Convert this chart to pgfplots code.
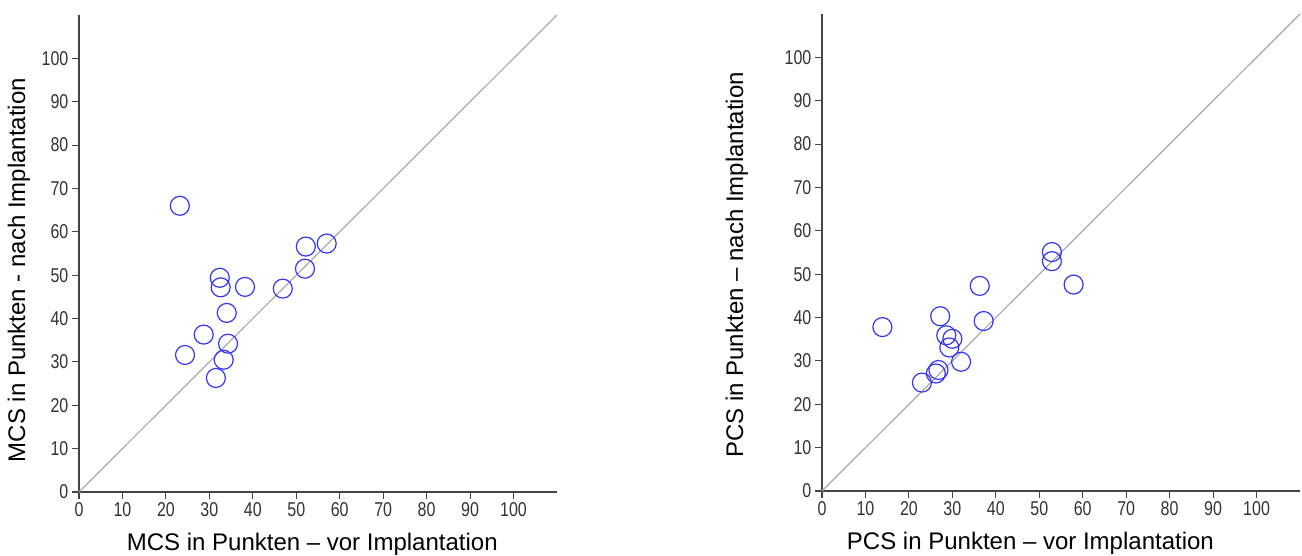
\documentclass[border=0pt]{standalone}
\usepackage{fontspec}
\setmainfont{Liberation Sans}
\newfontfamily\tickfont[FakeStretch=0.8]{Liberation Sans}
\usepackage{pgfplots}
\pgfplotsset{compat=1.18}
\definecolor{markblue}{HTML}{3535F5}
\definecolor{diaggray}{HTML}{AAAAAA}
\definecolor{axgray}{HTML}{444444}
\definecolor{tickgray}{HTML}{333333}
\pgfplotsset{
  scatterstyle/.style={
    scale only axis, width=478bp, height=477bp,
    xmin=0, xmax=110, ymin=0, ymax=110,
    axis x line*=bottom, axis y line*=left,
    x axis line style={-}, y axis line style={-},
    axis line style={color=axgray, line width=1.1bp},
    xtick={0,10,...,100}, ytick={0,10,...,100},
    tick align=outside, major tick length=7bp,
    tick style={color=axgray, line width=1.1bp},
    /pgf/number format/assume math mode=true,
    ticklabel style={font=\tickfont\fontsize{20bp}{20bp}\selectfont, text=tickgray},
    yticklabel style={inner sep=3.5bp},
    xticklabel style={inner sep=2bp, yshift=-1bp},
    label style={font=\fontsize{24bp}{24bp}\selectfont, text=black},
    clip=false,
  },
}
\begin{document}
\begin{tikzpicture}
\path[use as bounding box] (0,0) rectangle (1302bp,556bp);
% left panel (MCS)
\begin{axis}[scatterstyle, at={(79bp,64bp)}, anchor=south west,
  xlabel={MCS in Punkten -- vor Implantation},
  ylabel={MCS in Punkten - nach Implantation},
  xlabel style={at={(axis description cs:0.488,0)}, anchor=base, yshift=-58bp},
  ylabel style={at={(axis description cs:-0.1255,0.465)}, anchor=center, rotate=0},
]
\addplot[diaggray, line width=1.2bp] coordinates {(0,0) (110,110)};
\addplot[only marks, mark=o, mark size=9.5bp, mark options={draw=markblue, line width=1.2bp}] coordinates {
(23.2,66.0) (32.4,49.4) (32.6,47.2) (38.2,47.3) (46.9,46.9) (52.2,56.6)
(52.0,51.5) (57.0,57.3) (34.0,41.3) (28.7,36.3) (34.3,34.2) (24.4,31.6)
(33.3,30.5) (31.5,26.3)
};
\end{axis}
% right panel (PCS)
\begin{axis}[scatterstyle, at={(822bp,65bp)}, anchor=south west,
  xlabel={PCS in Punkten -- vor Implantation},
  ylabel={PCS in Punkten -- nach Implantation},
  xlabel style={at={(axis description cs:0.436,0)}, anchor=base, yshift=-58bp},
  ylabel style={at={(axis description cs:-0.1778,0.474)}, anchor=center, rotate=0},
]
\addplot[diaggray, line width=1.2bp] coordinates {(0,0) (110,110)};
\addplot[only marks, mark=o, mark size=9.5bp, mark options={draw=markblue, line width=1.2bp}] coordinates {
(13.9,37.8) (27.2,40.3) (36.3,47.3) (37.2,39.2) (52.9,55.1) (52.9,53.0)
(57.9,47.6) (28.6,35.9) (30.0,35.1) (29.3,33.1) (32.0,29.8) (26.8,27.9)
(26.2,27.1) (23.0,25.0)
};
\end{axis}
\end{tikzpicture}
\end{document}
